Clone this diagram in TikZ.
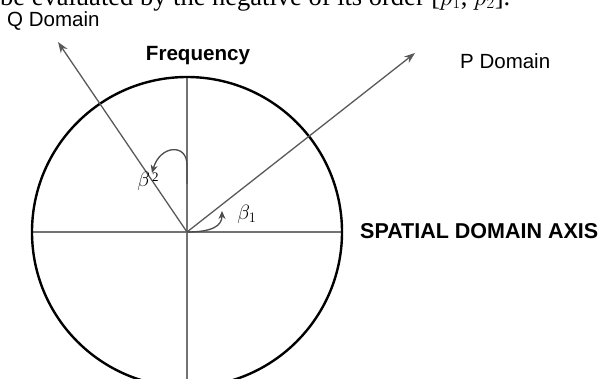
\documentclass[tikz,border=0pt]{standalone}
\usepackage{fontspec}
\setmainfont{Liberation Serif}
\setsansfont{Liberation Sans}
\usetikzlibrary{arrows.meta}

\begin{document}
\begin{tikzpicture}[x=1pt,y=-1pt,every node/.style={font=\sffamily\fontsize{20.5}{22}\selectfont,inner sep=0pt}]
\useasboundingbox (0,0) rectangle (599,378);
\clip (0,0) rectangle (599,378);
\coordinate (O) at (187,232);
\coordinate (top) at (187,77);
\coordinate (bot) at (187,390);
\coordinate (lft) at (32,232);
\coordinate (rgt) at (342,232);
\coordinate (qtip) at (58,42);
\coordinate (ptip) at (415,53);
\draw[line width=1.2pt,black!55] (lft)--(rgt);
\draw[line width=1.2pt,black!55] (top)--(bot);
\draw[line width=2.4pt] (O) circle (155);
\draw[line width=1.3pt,black!65,-{Stealth[length=11pt,width=8pt]}] (O)--(qtip);
\draw[line width=1.3pt,black!65,-{Stealth[length=11pt,width=8pt]}] (O)--(ptip);
% angle marks
\draw[line width=1.3pt,black!70,-{Stealth[length=8pt,width=7pt]}] (O) .. controls (212,232) and (222,226) .. (222,211);
\draw[line width=1.3pt,black!70,-{Stealth[length=8pt,width=7pt]}] (187,184) -- (187,165) .. controls (187,143) and (160,145) .. (152,173);
\node[font=\rmfamily\fontsize{26.5}{28}\selectfont,anchor=base west] (caption) at (0,5) {be evaluated by the negative of its order [$p_1$, $p_2$].};
\node[anchor=west] (qlab) at (7,21) {Q Domain};
\node[anchor=west] (plab) at (460,61) {P Domain};
\node[font=\sffamily\bfseries\fontsize{20.6}{22}\selectfont] (freq) at (198,56) {Frequency};
\node[font=\sffamily\bfseries\fontsize{21.5}{23}\selectfont,anchor=west] (axis) at (360,231) {SPATIAL DOMAIN AXIS};
\node[font=\fontsize{22}{22}\selectfont] (b2) at (148,181) {$\beta$\raisebox{5pt}{\fontsize{13}{13}\selectfont\,2}};
\node[font=\fontsize{22}{22}\selectfont] (b1) at (247,214) {$\beta_1$};
\end{tikzpicture}
\end{document}
